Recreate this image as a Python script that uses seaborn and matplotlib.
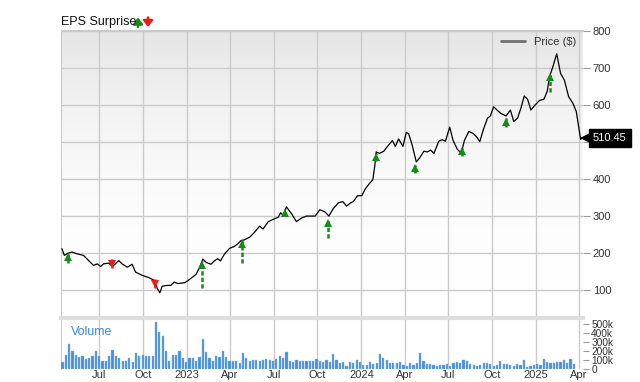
import matplotlib
matplotlib.use('Agg')
import numpy as np
import pandas as pd
import seaborn as sns
import matplotlib.pyplot as plt
import matplotlib.transforms as mtransforms
from matplotlib.colors import LinearSegmentedColormap
from matplotlib.lines import Line2D
from matplotlib.patches import FancyArrowPatch

# price line
price_dates = [
    '2022-04-14', '2022-04-19', '2022-04-27', '2022-05-05', '2022-05-16', '2022-05-29',
    '2022-06-09', '2022-06-19', '2022-06-27', '2022-07-04', '2022-07-10', '2022-07-21',
    '2022-07-29', '2022-08-11', '2022-08-18', '2022-08-29', '2022-09-08', '2022-09-15',
    '2022-09-29', '2022-10-13', '2022-10-24', '2022-10-31', '2022-11-05', '2022-11-10',
    '2022-11-21', '2022-11-28', '2022-12-05', '2022-12-12', '2022-12-26', '2023-01-02',
    '2023-01-13', '2023-01-20', '2023-01-27', '2023-02-03', '2023-02-10', '2023-02-20',
    '2023-02-27', '2023-03-06', '2023-03-12', '2023-03-20', '2023-03-31', '2023-04-10',
    '2023-04-17', '2023-04-24', '2023-05-01', '2023-05-12', '2023-05-22', '2023-06-02',
    '2023-06-09', '2023-06-20', '2023-06-30', '2023-07-11', '2023-07-16', '2023-07-21',
    '2023-07-28', '2023-08-08', '2023-08-18', '2023-08-29', '2023-09-08', '2023-09-26',
    '2023-10-06', '2023-10-17', '2023-10-25', '2023-11-03', '2023-11-14', '2023-11-23',
    '2023-12-01', '2023-12-10', '2023-12-15', '2023-12-24', '2024-01-02', '2024-01-09',
    '2024-01-18', '2024-01-25', '2024-01-29', '2024-02-01', '2024-02-08', '2024-02-17',
    '2024-02-24', '2024-03-06', '2024-03-12', '2024-03-19', '2024-03-28', '2024-04-04',
    '2024-04-09', '2024-04-16', '2024-04-25', '2024-05-02', '2024-05-11', '2024-05-18',
    '2024-05-25', '2024-06-01', '2024-06-11', '2024-06-18', '2024-06-25', '2024-07-04',
    '2024-07-11', '2024-07-20', '2024-07-28', '2024-08-04', '2024-08-13', '2024-08-22',
    '2024-08-29', '2024-09-05', '2024-09-12', '2024-09-21', '2024-09-27', '2024-10-04',
    '2024-10-11', '2024-10-19', '2024-10-30', '2024-11-08', '2024-11-15', '2024-11-23',
    '2024-11-30', '2024-12-07', '2024-12-14', '2024-12-21', '2024-12-30', '2025-01-08',
    '2025-01-17', '2025-01-24', '2025-01-29', '2025-02-05', '2025-02-13', '2025-02-21',
    '2025-03-01', '2025-03-10', '2025-03-19', '2025-03-26', '2025-04-04', '2025-04-07',
]
price_vals = [
    212, 194, 200, 203, 198, 194,
    180, 167, 171, 164, 171, 173,
    164, 180, 171, 162, 170, 149,
    140, 134, 127, 104, 93, 111,
    113, 113, 122, 118, 120, 125,
    136, 143, 161, 184, 175, 170,
    179, 185, 179, 197, 213, 218,
    225, 234, 236, 243, 256, 273,
    265, 285, 291, 297, 309, 302,
    325, 306, 285, 295, 300, 300,
    317, 311, 300, 320, 336, 339,
    327, 336, 339, 355, 355, 373,
    388, 398, 435, 473, 469, 475,
    487, 504, 488, 508, 488, 526,
    522, 493, 446, 457, 475, 473,
    478, 469, 502, 506, 502, 540,
    504, 480, 470, 505, 528, 523,
    514, 501, 532, 564, 570, 595,
    586, 577, 570, 586, 555, 564,
    591, 624, 615, 586, 600, 612,
    615, 636, 676, 703, 738, 685,
    667, 622, 604, 582, 507, 510.45,
]
last_price = 510.45

# weekly volume, thousands of shares
volume_k = [
    74, 159, 278, 204, 159, 130, 141, 111, 122, 141, 204, 148, 93, 93, 141, 211,
    141, 122, 93, 93, 122, 74, 178, 148, 159, 148, 148, 148, 518, 414, 370, 204,
    85, 159, 159, 204, 118, 74, 118, 122, 93, 130, 333, 192, 122, 85, 148, 137,
    204, 137, 85, 85, 93, 67, 178, 122, 85, 100, 104, 93, 100, 111, 104, 93,
    111, 148, 122, 192, 93, 74, 100, 93, 85, 85, 93, 93, 111, 85,
    81, 100, 81, 167, 100, 67, 74, 37, 74, 67, 100, 74, 44, 44, 74, 56,
    67, 167, 118, 100, 67, 63, 67, 81, 44, 37, 67, 48, 67, 178, 85, 56,
    56, 48, 37, 44, 48, 56, 37, 63, 81, 63, 104, 85, 56, 48, 37, 44,
    63, 63, 56, 37, 44, 85, 56, 56, 44, 30, 56, 44, 100, 26, 37, 48,
    56, 44, 111, 74, 63, 63, 74, 74, 100, 63, 111, 56,
]

# EPS surprise arrows: date, tail price, tip price, beat (True) / miss (False)
eps_dates = ['2022-04-27', '2022-07-27', '2022-10-25', '2023-02-01', '2023-04-25',
             '2023-07-26', '2023-10-23', '2024-02-01', '2024-04-23', '2024-07-30',
             '2024-10-30', '2025-01-29']
eps_tail = [174, 183, 129, 106, 174, 299, 241, 448, 416, 463, 540, 634]
eps_tip = [198, 160, 106, 178, 235, 319, 290, 470, 439, 484, 564, 686]
eps_beat = [True, False, False, True, True, True, True, True, True, True, True, True]

tick_dates = ['2022-07-01', '2022-10-01', '2023-01-01', '2023-04-01', '2023-07-01',
              '2023-10-01', '2024-01-01', '2024-04-01', '2024-07-01', '2024-10-01',
              '2025-01-01', '2025-04-01']
tick_labels = ['Jul', 'Oct', '2023', 'Apr', 'Jul', 'Oct', '2024', 'Apr', 'Jul', 'Oct',
               '2025', 'Apr']
price_ticks = [100, 200, 300, 400, 500, 600, 700, 800]
vol_ticks = [0, 100, 200, 300, 400, 500]
vol_labels = ['0', '100k', '200k', '300k', '400k', '500k']

sns.set_style('white')
plt.rcParams['font.family'] = ['Liberation Sans', 'DejaVu Sans']

GREEN = '#168a16'
RED = '#f01818'
GRID = '#cacaca'
TXT = '#333333'

fig = plt.figure(figsize=(6.4, 3.82), dpi=100)
ax = fig.add_axes([0.0953, 0.1675, 0.8156, 0.754])
axv = fig.add_axes([0.0953, 0.034, 0.8156, 0.1335], sharex=ax)

# background gradient of the price panel
grad = np.linspace(1, 0, 256).reshape(-1, 1) ** 2.2
cmap = LinearSegmentedColormap.from_list('bg', ['#ffffff', '#e5e5e5'])
ax.imshow(grad, cmap=cmap, extent=[0, 1, 0, 1], transform=ax.transAxes,
          aspect='auto', zorder=-1, interpolation='bilinear')

df = pd.DataFrame({'date': pd.to_datetime(price_dates), 'price': price_vals})
sns.lineplot(data=df, x='date', y='price', ax=ax, color='black', lw=0.9, zorder=3)

# EPS arrows
for d, t0, t1, beat in zip(pd.to_datetime(eps_dates), eps_tail, eps_tip, eps_beat):
    c = GREEN if beat else RED
    ax.plot([d, d], [t0, t1], color=c, lw=1.8, ls=(0, (1.7, 0.9)), zorder=4,
            solid_capstyle='butt', dash_capstyle='butt')
    off = mtransforms.offset_copy(ax.transData, fig=fig, y=(-2.6 if beat else 2.6),
                                  units='points')
    ax.plot([d], [t1], marker='^' if beat else 'v', ms=5.6, color=c, mew=0,
            transform=off, zorder=5)

# volume bars
vol_dates = pd.date_range('2022-04-15', periods=len(volume_k), freq='7D')
axv.bar(vol_dates, volume_k, width=4.6, color='#4a8fd4', edgecolor='#8dbbe6',
        linewidth=0.3, zorder=3)

xmin, xmax = pd.Timestamp('2022-04-12'), pd.Timestamp('2025-04-09')
ax.set_xlim(xmin, xmax)
ax.set_ylim(25, 802)
axv.set_ylim(0, 565)

ax.set_xticks(pd.to_datetime(tick_dates))
axv.set_xticks(pd.to_datetime(tick_dates))
axv.set_xticklabels(tick_labels)
ax.tick_params(axis='x', labelbottom=False, length=0)
axv.tick_params(axis='x', length=0, pad=1, labelsize=8, labelcolor=TXT)

ax.yaxis.tick_right()
ax.set_yticks(price_ticks)
# the 500 label sits under the last-price tag
ax.set_yticklabels(['' if v == 500 else str(v) for v in price_ticks])
ax.tick_params(axis='y', length=5, color='#999999', labelsize=8, labelcolor=TXT, pad=2)

axv.yaxis.tick_right()
axv.set_yticks(vol_ticks)
axv.set_yticklabels(vol_labels)
axv.tick_params(axis='y', length=4, color='#999999', labelsize=7.3, labelcolor=TXT, pad=2)

ax.set_xlabel('')
ax.set_ylabel('')
axv.set_xlabel('')
ax.grid(True, color=GRID, lw=1)
axv.grid(axis='x', color=GRID, lw=1)
axv.grid(axis='y', visible=False)
ax.set_axisbelow(True)
axv.set_axisbelow(True)

for sp in ['left', 'top']:
    ax.spines[sp].set_color(GRID)
ax.spines['right'].set_visible(False)
ax.spines['bottom'].set_visible(False)
axv.spines['right'].set_visible(False)
axv.spines['bottom'].set_visible(False)
axv.spines['left'].set_color(GRID)
axv.spines['top'].set_color('#dedede')
axv.spines['top'].set_linewidth(3)

ax.legend([Line2D([], [], color='#707070', lw=2)], ['Price ($)'], loc='upper right',
          frameon=False, fontsize=8, handlelength=2.2, borderaxespad=0.2,
          labelcolor=TXT)

# last price tag
tag = mtransforms.blended_transform_factory(ax.transAxes, ax.transData)
ax.plot([1.007], [last_price], marker='<', ms=10, color='black', mew=0,
        transform=tag, clip_on=False, zorder=10)
ax.text(1.019, last_price, f'{last_price:.2f}', transform=tag, color='white',
        fontsize=8, va='center', ha='left', zorder=11, clip_on=False,
        bbox=dict(boxstyle='square,pad=0.38', fc='black', ec='black'))

axv.text(0.02, 0.72, 'Volume', transform=axv.transAxes, color='#3a8ad6', fontsize=9,
         va='center', ha='left')

# header
fig.text(61 / 640, 1 - 22 / 382, 'EPS Surprise', fontsize=9, va='center', ha='left',
         color='#111111')
for x0, c, up in [(138, GREEN, True), (148, RED, False)]:
    y_top, y_bot = 1 - 17.5 / 382, 1 - 27 / 382
    tip, tail = (y_top, y_bot) if up else (y_bot, y_top)
    fig.add_artist(FancyArrowPatch(
        (x0 / 640, tail), (x0 / 640, tip), transform=fig.transFigure,
        arrowstyle='-|>,head_width=2.8,head_length=3.6', color=c, lw=1.8,
        shrinkA=0, shrinkB=0, mutation_scale=1))

fig.savefig('out.png', dpi=100)
